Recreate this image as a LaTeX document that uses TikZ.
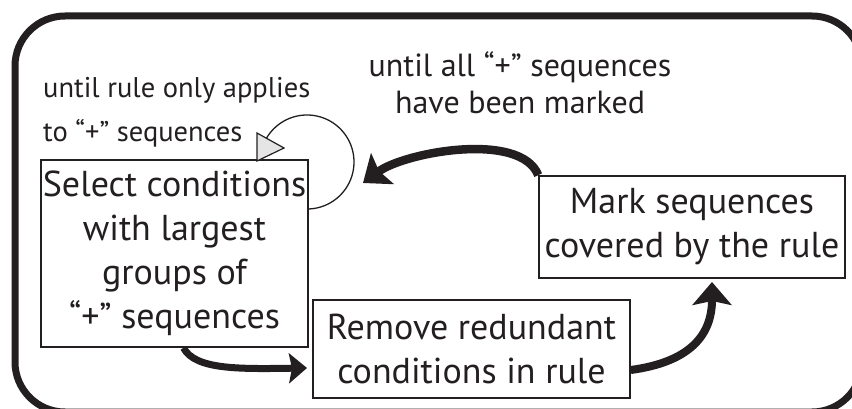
\documentclass[tikz,border=0pt]{standalone}
\usepackage{fontspec}
\setmainfont{PT Sans}
\usetikzlibrary{arrows.meta,calc}
\definecolor{ink}{RGB}{35,31,32}
\begin{document}
\begin{tikzpicture}[x=1pt,y=-1pt,
  stepbox/.style={draw=ink, line width=1.6pt, inner sep=0pt, align=center,
    font=\fontsize{36}{44}\selectfont, text=ink},
  flowA/.style={draw=ink, line width=8.5pt, -{Stealth[length=24pt,width=38pt,inset=4pt]}},
  flowB/.style={draw=ink, line width=7pt, -{Stealth[length=18pt,width=30pt,inset=3pt]}},
  flowC/.style={draw=ink, line width=8pt, -{Stealth[length=23pt,width=39pt,inset=4pt]}},
  note/.style={text=ink, inner sep=0pt}]
\useasboundingbox (0,0) rectangle (852,409);
\begin{scope}
  \clip (0,0) rectangle (852,409);
  \draw[ink, line width=7pt, rounded corners=50pt] (15,16) rectangle (862,412);
\end{scope}

\node[stepbox, minimum width=267pt, minimum height=187pt] (box1) at (174.5,253.5)
  {Select conditions\\with largest\\groups of\\“+” sequences};
\node[stepbox, minimum width=317pt, minimum height=98pt] (box2) at (471.5,349)
  {Remove redundant\\conditions in rule};
\node[stepbox, minimum width=306pt, minimum height=102pt] (box3) at (692,227)
  {Mark sequences\\covered by the rule};

\node[note, anchor=north west, align=left, font=\fontsize{28.5}{44}\selectfont] (n1) at (43,77)
  {until rule only applies\\to “+” sequences};
\node[note, anchor=north, align=center, font=\fontsize{32}{37}\selectfont] (n2) at (520,51)
  {until all “+” sequences\\have been marked};

% self loop on box1
\draw[ink, line width=1.3pt] plot[domain=-88:151, samples=90] ({307+47*cos(\x)},{162-47*sin(\x)});
\draw[ink, fill=gray!20, line width=1.2pt, line join=miter] (257,133) -- (284,148) -- (257,161) -- cycle;

% big arrows
\coordinate (tipA) at (363,183);
\draw[flowA] (box3.north west) .. controls (521,131) and (405,152) .. (tipA);

\coordinate (startB) at ($(box1.south)+(9,0)$);
\coordinate (tipB) at (307,368);
\draw[flowB] (startB) .. controls (195,370) and (240,369) .. (tipB);

\coordinate (startC) at ($(box2.east)+(0,21)$);
\coordinate (tipC) at (712,282);
\draw[flowC] (startC) .. controls (690,362) and (712,335) .. (tipC);
\end{tikzpicture}
\end{document}
